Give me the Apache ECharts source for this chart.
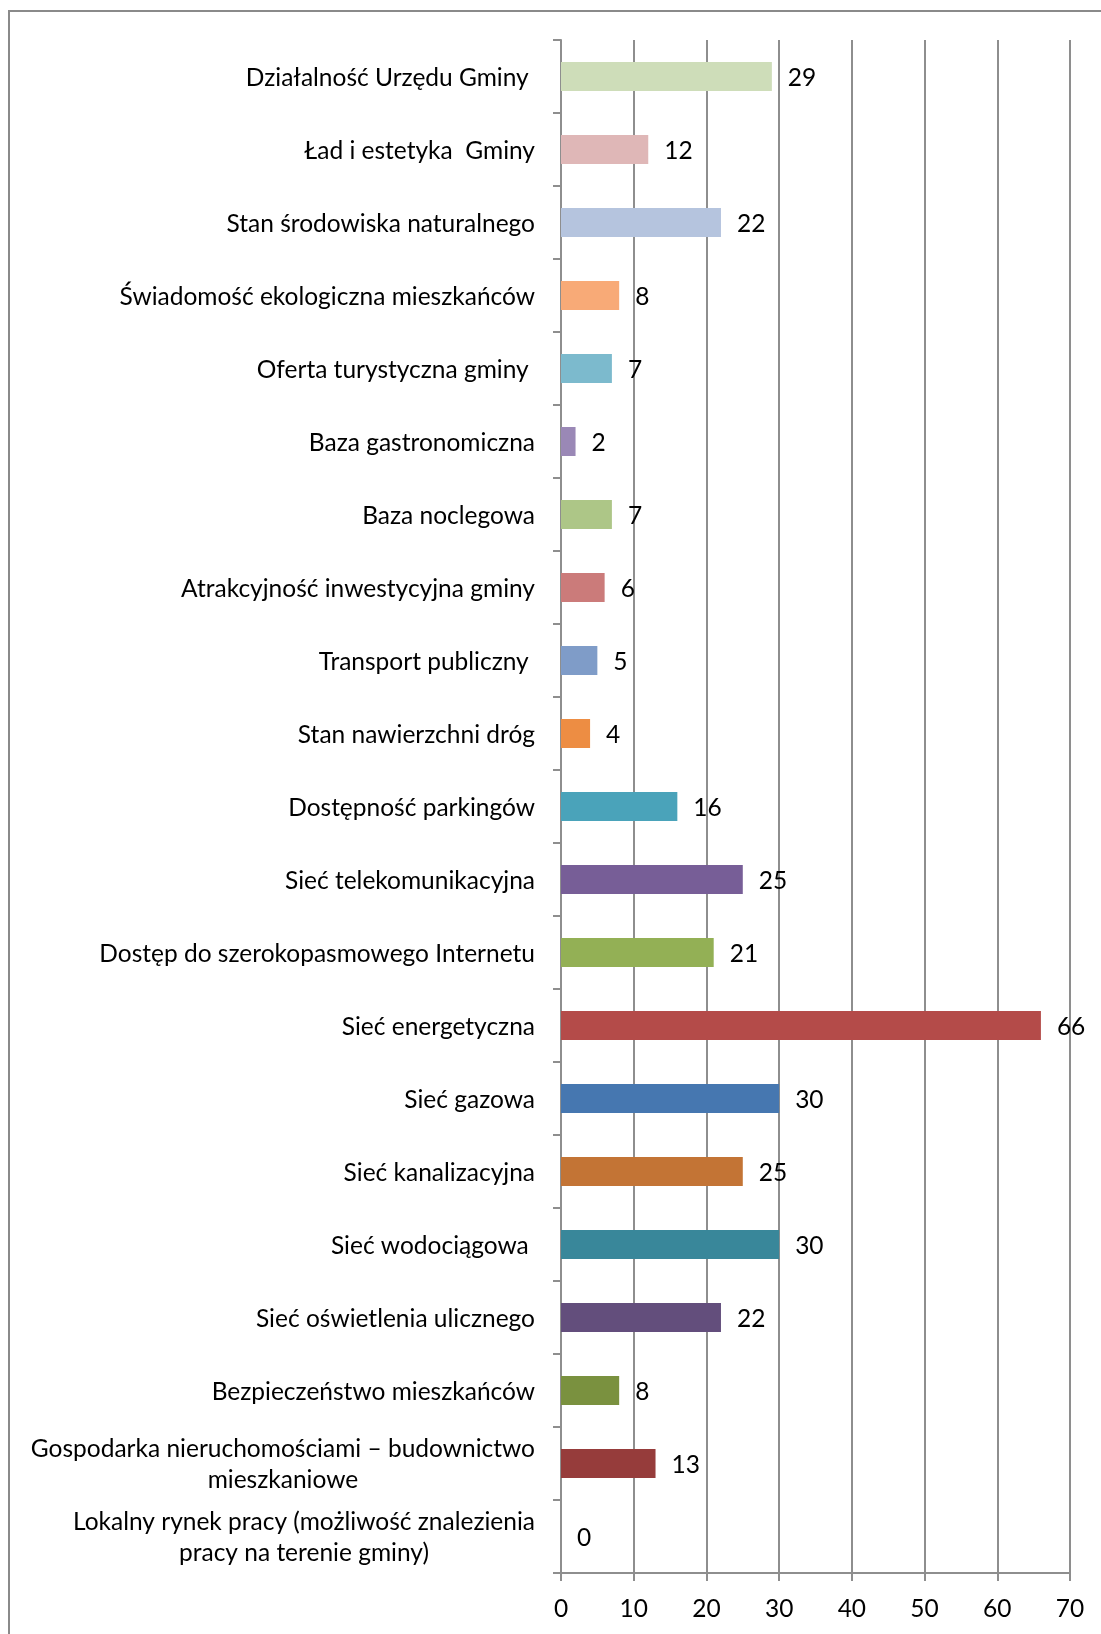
<!DOCTYPE html>
<html>
<head>
<meta charset="utf-8">
<script src="https://cdn.jsdelivr.net/npm/echarts@6/dist/echarts.min.js"></script>
<style>
  html, body { margin: 0; padding: 0; background: #fff; }
  #chart { width: 1101px; height: 1634px; }
</style>
</head>
<body>
<div id="chart"></div>
<script>
// categories, top to bottom
const categories = [
    'Działalność Urzędu Gminy ',
    'Ład i estetyka  Gminy',
    'Stan środowiska naturalnego',
    'Świadomość ekologiczna mieszkańców',
    'Oferta turystyczna gminy ',
    'Baza gastronomiczna',
    'Baza noclegowa',
    'Atrakcyjność inwestycyjna gminy',
    'Transport publiczny ',
    'Stan nawierzchni dróg',
    'Dostępność parkingów',
    'Sieć telekomunikacyjna',
    'Dostęp do szerokopasmowego Internetu',
    'Sieć energetyczna',
    'Sieć gazowa',
    'Sieć kanalizacyjna',
    'Sieć wodociągowa ',
    'Sieć oświetlenia ulicznego',
    'Bezpieczeństwo mieszkańców',
    'Gospodarka nieruchomościami – budownictwo\nmieszkaniowe',
    'Lokalny rynek pracy (możliwość znalezienia\npracy na terenie gminy)',
];
const values = [29, 12, 22, 8, 7, 2, 7, 6, 5, 4, 16, 25, 21, 66, 30, 25, 30, 22, 8, 13, 0];
const barColors = [
    '#CEDDB9', '#DFB7B7', '#B5C4DE', '#F8AA77', '#7CBACD', '#9A88B6', '#ADC687',
    '#CB7B7A', '#7F9CC8', '#ED8D43', '#4AA3BA', '#775E97', '#93B055', '#B44B49',
    '#4677B0', '#C37435', '#39879A', '#634E7C', '#7A913F', '#963C3B', '#999999',
];

const FONT = 'Lato';
const FS = 24.5;
const GRAY = '#8e8e8e';

const chart = echarts.init(document.getElementById('chart'), null, { renderer: 'canvas' });

const option = {
    backgroundColor: '#fff',
    animation: false,
    graphic: [
        {
            type: 'rect',
            shape: { x: 9, y: 11, width: 1200, height: 1700 },
            style: { fill: 'none', stroke: '#8a8a8a', lineWidth: 2 },
            silent: true,
        },
    ],
    grid: {
        left: 561,
        right: 31,
        top: 40,
        bottom: 61,
    },
    xAxis: {
        type: 'value',
        min: 0,
        max: 70,
        interval: 10,
        axisLine: { show: true, lineStyle: { color: GRAY, width: 2 } },
        axisTick: { show: true, length: 8, lineStyle: { color: GRAY, width: 2 } },
        axisLabel: { color: '#000', fontFamily: FONT, fontSize: FS, margin: 24 },
        splitLine: { show: true, lineStyle: { color: GRAY, width: 2 } },
    },
    yAxis: {
        type: 'category',
        inverse: true,
        data: categories,
        axisLine: { show: true, lineStyle: { color: GRAY, width: 2 } },
        axisTick: { show: true, length: 8, alignWithLabel: false, lineStyle: { color: GRAY, width: 2 } },
        axisLabel: {
            color: '#000',
            fontFamily: FONT,
            fontSize: FS,
            margin: 26,
            lineHeight: 31,
            interval: 0,
            padding: [3, 0, 0, 0],
            // two-line labels are centred within their block
            formatter: v => v.indexOf('\n') < 0 ? v
                : v.split('\n').map(s => '{c|' + s + '}').join('\n'),
            rich: {
                c: { align: 'center', fontFamily: FONT, fontSize: FS, lineHeight: 31, color: '#000' },
            },
        },
    },
    series: [
        {
            type: 'bar',
            barWidth: 29,
            data: values.map((v, i) => ({ value: v, itemStyle: { color: barColors[i] } })),
            label: {
                show: true,
                position: 'right',
                distance: 16,
                offset: [0, 2],
                color: '#000',
                fontFamily: FONT,
                fontSize: FS,
            },
        },
    ],
};

chart.setOption(option);
</script>
</body>
</html>
